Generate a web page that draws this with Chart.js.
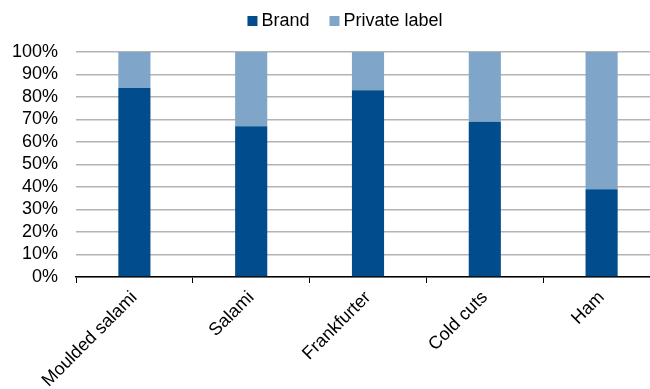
<!DOCTYPE html>
<html>
<head>
<meta charset="utf-8">
<script src="https://cdn.jsdelivr.net/npm/chart.js@4"></script>
<style>
  html, body { margin: 0; padding: 0; background: #fff; overflow: hidden; }
  #wrap { width: 690px; height: 389px; }
</style>
</head>
<body>
<div id="wrap"><canvas id="shareChart" width="690" height="389"></canvas></div>
<script>
const categories = ["Moulded salami", "Salami", "Frankfurter", "Cold cuts", "Ham"];
const brandShare = [84, 67, 83, 69, 39];
const privateLabelShare = [16, 33, 17, 31, 61];

const fontFamily = "'Liberation Sans', Arial, sans-serif";
Chart.defaults.font.family = fontFamily;
Chart.defaults.color = "#000";

// small legend drawn by hand so the box/text gaps match the original
const topLegend = {
    id: "topLegend",
    afterDraw(chart) {
        const c = chart.ctx;
        const boxSize = 10, boxGap = 4, itemGap = 20;
        c.save();
        c.font = "18px " + fontFamily;
        c.textBaseline = "middle";
        const items = chart.data.datasets.map(ds => ({
            text: ds.label,
            color: ds.backgroundColor,
            w: boxSize + boxGap + c.measureText(ds.label).width
        }));
        const total = items.reduce((s, it) => s + it.w, 0) + itemGap * (items.length - 1);
        let x = 345 - total / 2;
        const y = 21;
        items.forEach(it => {
            c.fillStyle = it.color;
            c.fillRect(x, y - boxSize / 2, boxSize, boxSize);
            c.fillStyle = "#000";
            c.fillText(it.text, x + boxSize + boxGap, y);
            x += it.w + itemGap;
        });
        c.restore();
    }
};

const ctx = document.getElementById("shareChart").getContext("2d");
const shareChart = new Chart(ctx, {
    type: "bar",
    data: {
        labels: categories,
        datasets: [{
            label: "Brand",
            data: brandShare,
            backgroundColor: "#004C8C",
            barPercentage: 0.275,
            categoryPercentage: 1,
        }, {
            label: "Private label",
            data: privateLabelShare,
            backgroundColor: "#7FA6C9",
            barPercentage: 0.275,
            categoryPercentage: 1,
        }],
    },
    plugins: [topLegend],
    options: {
        responsive: false,
        animation: false,
        layout: { padding: { left: 0, right: 30, top: 52, bottom: 0 } },
        plugins: {
            legend: { display: false },
            tooltip: { enabled: false }
        },
        scales: {
            x: {
                stacked: true,
                offset: true,
                grid: {
                    offset: true,
                    drawOnChartArea: false,
                    color: "#000",
                    tickLength: 6,
                    tickColor: "#000"
                },
                border: { color: "#000", width: 1.5 },
                ticks: {
                    minRotation: 45,
                    maxRotation: 45,
                    padding: 4,
                    font: { size: 18 }
                },
                afterFit: (scale) => { scale.height = 112; }
            },
            y: {
                stacked: true,
                min: 0,
                max: 100,
                ticks: {
                    stepSize: 10,
                    autoSkip: false,
                    padding: 18,
                    font: { size: 18 },
                    callback: (v) => v + "%"
                },
                grid: { color: "#b3b3b3", lineWidth: 1.5, drawTicks: false },
                border: { display: false },
                afterFit: (scale) => { scale.width = 76; }
            }
        }
    }
});
</script>
</body>
</html>
